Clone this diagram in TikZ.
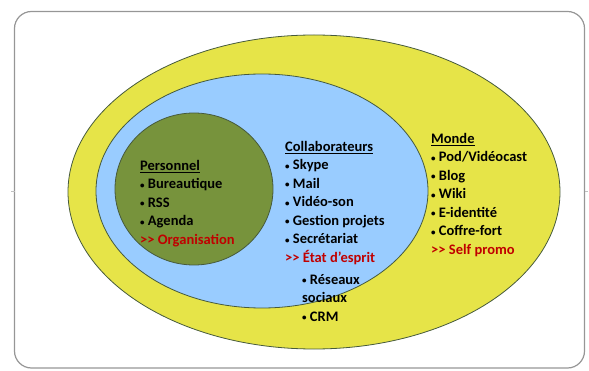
\documentclass[tikz,border=0pt]{standalone}
\usepackage{fontspec}
\setmainfont{Carlito}
\usetikzlibrary{positioning}

\definecolor{mondeyellow}{RGB}{230,228,72}
\definecolor{collabblue}{RGB}{153,204,255}
\definecolor{persogreen}{RGB}{119,147,60}
\definecolor{ringline}{RGB}{70,90,60}
\definecolor{promored}{RGB}{192,0,0}
\definecolor{framegray}{RGB}{150,150,150}

\newcommand{\itm}{\raisebox{0.5pt}{\fontsize{9}{9}\selectfont\textbullet}\ }
\newcommand{\pointer}{{>}{>}\ }

\begin{document}
\begin{tikzpicture}[x=1pt, y=-1pt,
    ring/.style={draw=ringline, line width=0.8pt},
    list/.style={anchor=north west, align=left, inner sep=0pt,
      font=\fontsize{14.5}{18.5}\selectfont\bfseries},
    promo/.style={text=promored}]

    \useasboundingbox (0,0) rectangle (589,371);

    % Slide frame
    \draw[framegray, line width=1.2pt, rounded corners=17pt] (14.5,11.5) rectangle (584.5,368);
    \draw[framegray!60, line width=0.6pt] (11,191) -- (14.5,191);
    \draw[framegray!60, line width=0.6pt] (584.5,191) -- (588,191);

    % Nested circles
    \path[ring, fill=mondeyellow] (314,192) ellipse [x radius=246, y radius=157];
    \path[ring, fill=collabblue] (262,191) ellipse [x radius=166, y radius=117];
    \path[ring, fill=persogreen] (194,189) ellipse [x radius=79, y radius=76];

    % Personnel
    \node[list] (perso) at (140,160) {\underline{Personnel}\\
      \itm Bureautique\\ \itm RSS\\ \itm Agenda\\
      {\color{promored}\pointer Organisation}};

    % Collaborateurs
    \node[list] (collab) at (285,141) {\underline{Collaborateurs}\\
      \itm Skype\\ \itm Mail\\ \itm Vid\'eo-son\\ \itm Gestion projets\\
      \itm Secr\'etariat\\ {\color{promored}\pointer \'Etat d'esprit}};
    \node[list] (social) at (302,274) {\itm R\'eseaux\\ sociaux\\ \itm CRM};

    % Monde
    \node[list] (monde) at (431,133) {\underline{Monde}\\
      \itm Pod/Vid\'eocast\\ \itm Blog\\ \itm Wiki\\ \itm E-identit\'e\\
      \itm Coffre-fort\\ {\color{promored}\pointer Self promo}};
\end{tikzpicture}
\end{document}
